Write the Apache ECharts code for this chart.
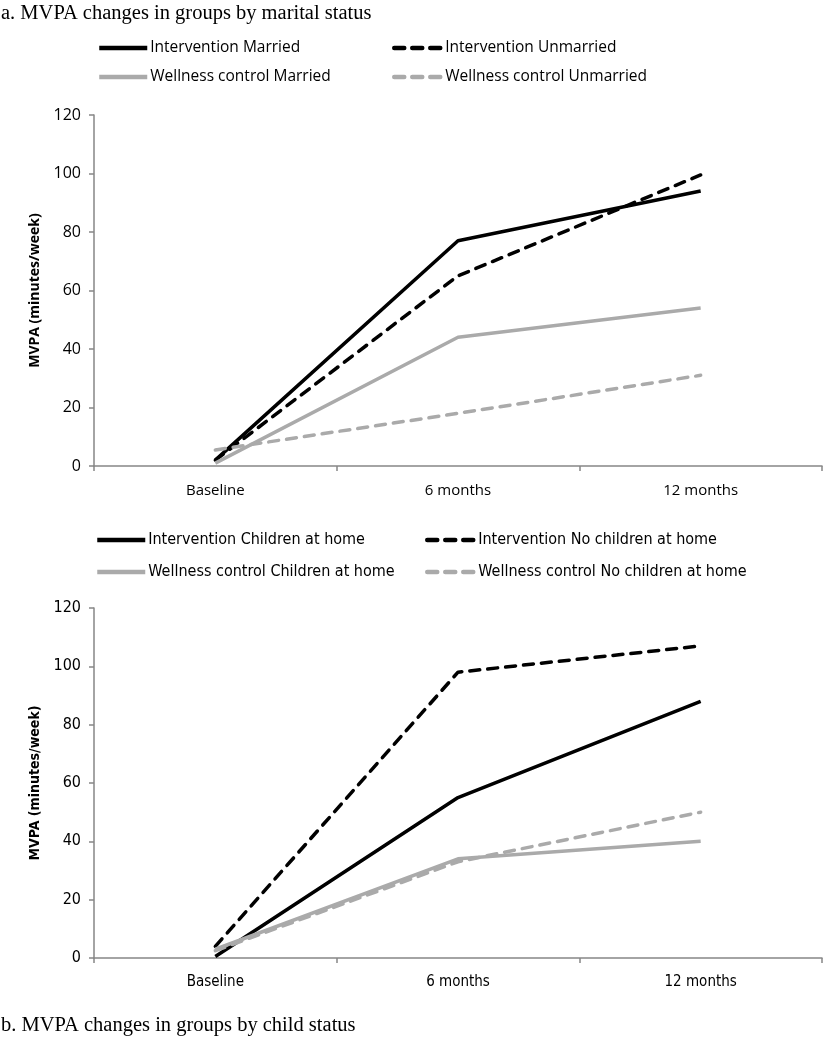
<!DOCTYPE html>
<html><head><meta charset="utf-8">
<script src="https://cdn.jsdelivr.net/npm/echarts@6/dist/echarts.min.js"></script>
<style>html,body{margin:0;padding:0;background:#fff}#c{width:823px;height:1050px}</style>
</head><body><div id="c"></div>
<script>
const categories = ['Baseline', '6 months', '12 months'];
const yTicks = [0, 20, 40, 60, 80, 100, 120];

// Panel a: marital status
const intMarried = [2, 77, 94];
const intUnmarried = [2, 65, 99.5];
const wcMarried = [1, 44, 54];
const wcUnmarried = [5.5, 18, 31];

// Panel b: child status
const intChildren = [0.5, 55, 88];
const intNoChildren = [4, 98, 107];
const wcChildren = [3, 34, 40];
const wcNoChildren = [2.5, 33, 50];

const BLACK = '#000000', GRAY = '#AAAAAA', AXIS = '#868686';
const fontA = 'Open Sans';
const fontB = '"Liberation Sans Narrow","DejaVu Sans Condensed","Roboto Condensed",Roboto';

function mkSeries(name, data, color, dashed, idx) {
  return {
    name, type: 'line', data, xAxisIndex: idx, yAxisIndex: idx,
    symbol: 'none', showSymbol: false, smooth: false, animation: false,
    lineStyle: { color, width: 3.5, type: dashed ? [10, 8] : 'solid', cap: dashed ? 'round' : 'butt', join: 'round' },
    itemStyle: { color }
  };
}
function mkLegend(name, left, top, font, size) {
  return { data: [name], left, top, padding: 0, itemWidth: 48, itemHeight: 12, itemGap: 0,
    itemStyle: { opacity: 0, borderWidth: 0 },
    lineStyle: { width: 4.5 },
    textStyle: { fontFamily: font, fontSize: size, color: '#000', padding: [0, 0, 0, -2] },
    selectedMode: false };
}
function mkX(idx, font, size) {
  return { type: 'category', data: categories, gridIndex: idx, boundaryGap: true,
    axisLine: { lineStyle: { color: AXIS, width: 1.5 } },
    axisTick: { show: true, length: 5, lineStyle: { color: AXIS, width: 1.5 } },
    axisLabel: { fontFamily: font, fontSize: size, color: '#000', margin: 17 } };
}
function mkY(idx, font, size) {
  return { type: 'value', gridIndex: idx, min: yTicks[0], max: yTicks[yTicks.length - 1], interval: 20,
    name: 'MVPA (minutes/week)', nameLocation: 'middle', nameRotate: 90, nameGap: 52,
    nameTextStyle: { fontFamily: font, fontSize: size, fontWeight: 'bold', color: '#000' },
    axisLine: { show: true, lineStyle: { color: AXIS, width: 1.5 } },
    axisTick: { show: true, length: 5, lineStyle: { color: AXIS, width: 1.5 } },
    splitLine: { show: false },
    axisLabel: { fontFamily: font, fontSize: size + 2, color: '#000', margin: 13 } };
}

const chart = echarts.init(document.getElementById('c'), null, { renderer: 'canvas' });
chart.setOption({
  animation: false,
  backgroundColor: '#fff',
  title: [
    { text: 'a. MVPA changes in groups by marital status', left: -4, top: -2,
      textStyle: { fontFamily: 'Liberation Serif', fontWeight: 'normal', fontSize: 20.5, color: '#000' } },
    { text: 'b. MVPA changes in groups by child status', left: -4, top: 1010,
      textStyle: { fontFamily: 'Liberation Serif', fontWeight: 'normal', fontSize: 20.5, color: '#000' } }
  ],
  grid: [
    { left: 94, right: 1, top: 115, height: 351 },
    { left: 94, right: 1, top: 608, height: 350 }
  ],
  legend: [
    mkLegend('Intervention Married', 97, 40, fontA, 15.5),
    mkLegend('Intervention Unmarried', 392, 40, fontA, 15.5),
    mkLegend('Wellness control Married', 97, 69, fontA, 15.5),
    mkLegend('Wellness control Unmarried', 392, 69, fontA, 15.5),
    mkLegend('Intervention Children at home', 95, 532, fontB, 16),
    mkLegend('Intervention No children at home', 425, 532, fontB, 16),
    mkLegend('Wellness control Children at home', 95, 564, fontB, 16),
    mkLegend('Wellness control No children at home', 425, 564, fontB, 16)
  ],
  xAxis: [mkX(0, fontA, 15), mkX(1, fontB, 15)],
  yAxis: [mkY(0, fontA, 14), mkY(1, fontB, 14)],
  series: [
    mkSeries('Intervention Married', intMarried, BLACK, false, 0),
    mkSeries('Intervention Unmarried', intUnmarried, BLACK, true, 0),
    mkSeries('Wellness control Married', wcMarried, GRAY, false, 0),
    mkSeries('Wellness control Unmarried', wcUnmarried, GRAY, true, 0),
    mkSeries('Intervention Children at home', intChildren, BLACK, false, 1),
    mkSeries('Intervention No children at home', intNoChildren, BLACK, true, 1),
    mkSeries('Wellness control Children at home', wcChildren, GRAY, false, 1),
    mkSeries('Wellness control No children at home', wcNoChildren, GRAY, true, 1)
  ]
});
</script></body></html>
